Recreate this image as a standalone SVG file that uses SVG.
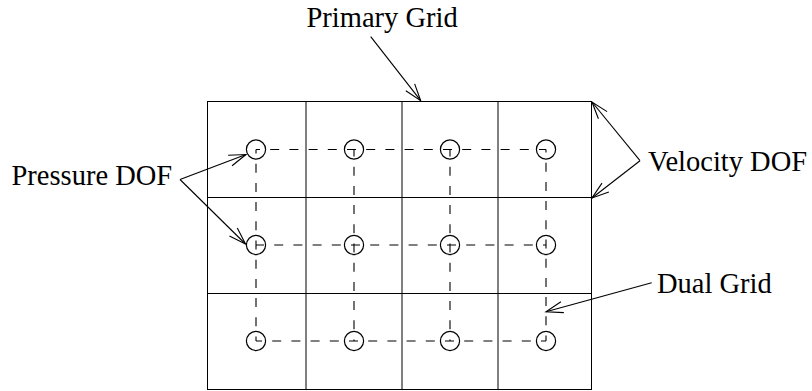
<svg xmlns="http://www.w3.org/2000/svg" width="812" height="391" viewBox="0 0 812 391">
  <style>
    .grid { fill: none; stroke: #000; stroke-width: 1; }
    .dual { fill: none; stroke: #000; stroke-width: 1.1; stroke-dasharray: 9 10.2; }
    .dof { fill: none; stroke: #000; stroke-width: 1.2; }
    .lead { fill: none; stroke: #000; stroke-width: 1.1; marker-end: url(#open); }
    .label { font-family: "Liberation Serif", "Times New Roman", serif; font-size: 28.5px; fill: #000; }
  </style>
  <defs>
    <marker id="open" markerUnits="userSpaceOnUse" markerWidth="20" markerHeight="14" refX="0" refY="0" orient="auto" overflow="visible">
      <path d="M -17 -5.6 L 0 0 L -17 5.6" fill="none" stroke="#000" stroke-width="1.1"/>
    </marker>
  </defs>

  <!-- primary grid: 4 x 3 cells -->
  <g id="primary-grid">
    <rect class="grid" x="207.5" y="101.5" width="384" height="288"/>
    <line class="grid" x1="207.5" y1="197.5" x2="591.5" y2="197.5"/>
    <line class="grid" x1="207.5" y1="293.5" x2="591.5" y2="293.5"/>
    <line class="grid" x1="306" y1="101.5" x2="306" y2="389.5"/>
    <line class="grid" x1="402" y1="101.5" x2="402" y2="389.5"/>
    <line class="grid" x1="498" y1="101.5" x2="498" y2="389.5"/>
  </g>

  <!-- dual grid: dashed lines joining the cell centres -->
  <g id="dual-grid">
    <line class="dual" x1="256" y1="149.5" x2="546" y2="149.5" stroke-dashoffset="5"/>
    <line class="dual" x1="256" y1="245" x2="546" y2="245" stroke-dashoffset="1"/>
    <line class="dual" x1="256" y1="341" x2="546" y2="341" stroke-dashoffset="3"/>
    <line class="dual" x1="256" y1="149.5" x2="256" y2="341" stroke-dashoffset="5"/>
    <line class="dual" x1="354" y1="149.5" x2="354" y2="341" stroke-dashoffset="2"/>
    <line class="dual" x1="450" y1="149.5" x2="450" y2="341" stroke-dashoffset="2"/>
    <line class="dual" x1="546" y1="149.5" x2="546" y2="341" stroke-dashoffset="6"/>
  </g>

  <!-- pressure degrees of freedom at the cell centres -->
  <g id="pressure-dofs">
    <circle class="dof" cx="256" cy="149.5" r="9.6"/>
    <circle class="dof" cx="354" cy="149.5" r="9.6"/>
    <circle class="dof" cx="450" cy="149.5" r="9.6"/>
    <circle class="dof" cx="546" cy="149.5" r="9.6"/>
    <circle class="dof" cx="256" cy="245" r="9.6"/>
    <circle class="dof" cx="354" cy="245" r="9.6"/>
    <circle class="dof" cx="450" cy="245" r="9.6"/>
    <circle class="dof" cx="546" cy="245" r="9.6"/>
    <circle class="dof" cx="256" cy="341" r="9.6"/>
    <circle class="dof" cx="354" cy="341" r="9.6"/>
    <circle class="dof" cx="450" cy="341" r="9.6"/>
    <circle class="dof" cx="546" cy="341" r="9.6"/>
  </g>

  <!-- labels -->
  <g id="label-primary-grid">
    <text class="label" x="306.5" y="26.5">Primary Grid</text>
  </g>
  <g id="label-pressure-dof">
    <text class="label" x="11.5" y="185">Pressure DOF</text>
  </g>
  <g id="label-velocity-dof">
    <text class="label" x="648" y="170.5">Velocity DOF</text>
  </g>
  <g id="label-dual-grid">
    <text class="label" x="657" y="293">Dual Grid</text>
  </g>

  <!-- leader arrows -->
  <g id="connectors">
    <line class="lead" x1="370.7" y1="36.7" x2="420.7" y2="100.7"/>
    <line class="lead" x1="180" y1="179.5" x2="246" y2="154.5"/>
    <line class="lead" x1="180" y1="179.5" x2="245.5" y2="244"/>
    <line class="lead" x1="640" y1="160.7" x2="592" y2="102"/>
    <line class="lead" x1="640" y1="160.7" x2="592" y2="198"/>
    <line class="lead" x1="651.7" y1="282.7" x2="546" y2="311.7"/>
  </g>
</svg>
